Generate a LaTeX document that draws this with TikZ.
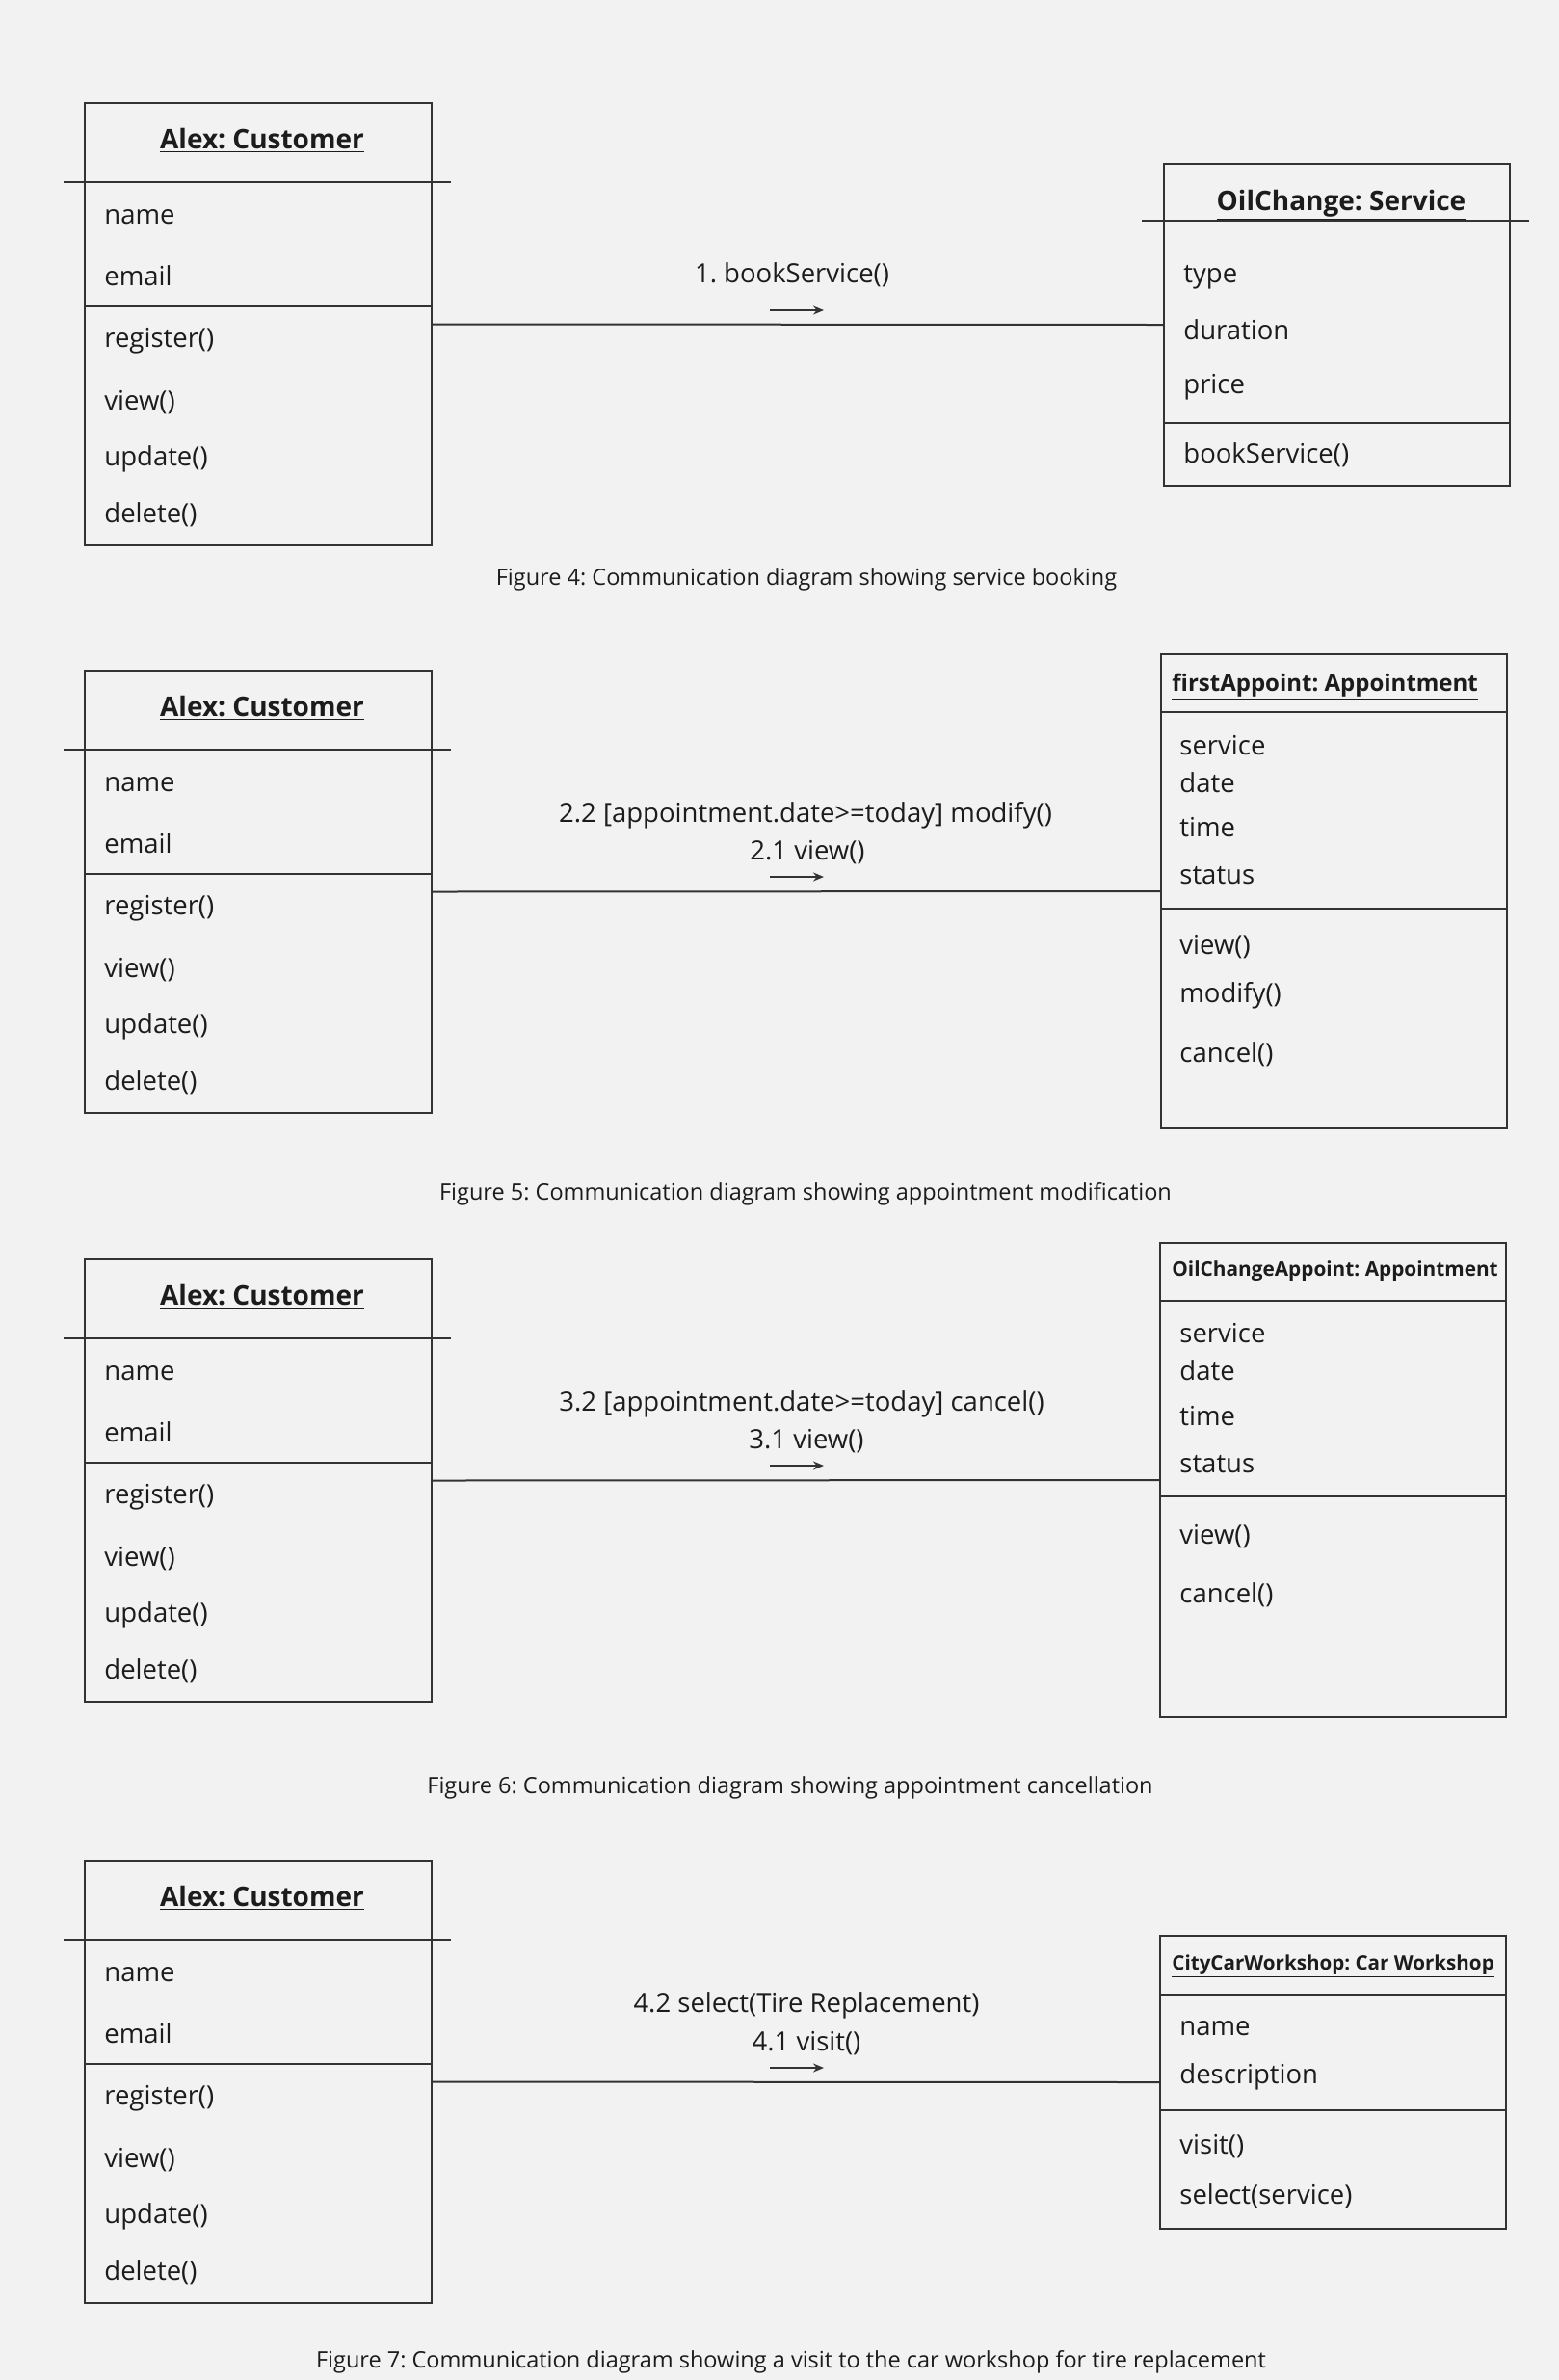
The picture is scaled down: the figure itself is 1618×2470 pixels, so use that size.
\documentclass[tikz,border=0pt]{standalone}
\usepackage{fontspec}
\setmainfont{Open Sans}
\usetikzlibrary{arrows.meta}
\frenchspacing
\definecolor{bg}{HTML}{F2F2F2}
\definecolor{ink}{HTML}{1C1C1C}
\definecolor{edge}{HTML}{333333}
\tikzset{
  box/.style={draw=edge, line width=1pt, inner sep=0pt, anchor=north west},
  sepline/.style={draw=edge, line width=1pt},
  txt/.style={anchor=base west, inner sep=0pt, text=ink, font=\fontsize{13.75}{16}\selectfont},
  ttl/.style={anchor=base, inner sep=0pt, text=ink, font=\bfseries\fontsize{14}{17}\selectfont},
  ttlsmall/.style={anchor=base west, inner sep=0pt, text=ink, font=\bfseries\fontsize{#1}{14}\selectfont},
  lbl/.style={anchor=base, inner sep=0pt, text=ink, font=\fontsize{13.75}{16}\selectfont},
  capt/.style={anchor=base, inner sep=0pt, text=ink, font=\fontsize{11.75}{14}\selectfont},
  conn/.style={draw=edge, line width=1pt},
  msg/.style={draw=edge, line width=0.8pt, -{Stealth[length=5.5pt,width=4.5pt]}},
}
\newcommand\CustBox[2]{%
  \node[box, minimum width=180pt, minimum height=229.5pt] (#1) at (87,#2) {};
  \draw[sepline] (66,{#2+83}) -- (468,{#2+83});
  \draw[sepline] (87,{#2+212}) -- (447,{#2+212});
  \node[ttl] (#1-t) at (272,{#2+48}) {\underline{Alex: Customer}};
  \node[txt] (#1-a1) at (108,{#2+126}) {name};
  \node[txt] (#1-a2) at (108,{#2+190}) {email};
  \node[txt] (#1-m1) at (108,{#2+254}) {register()};
  \node[txt] (#1-m2) at (108,{#2+319}) {view()};
  \node[txt] (#1-m3) at (108,{#2+377}) {update()};
  \node[txt] (#1-m4) at (108,{#2+436}) {delete()};
}
\begin{document}
\begin{tikzpicture}[x=0.5pt,y=-0.5pt]
\fill[bg] (0,0) rectangle (1618,2470);
\useasboundingbox (0,0) rectangle (1618,2470);

% ---------------- Figure 4 ----------------
\CustBox{c4}{106}
\node[box, minimum width=179.5pt, minimum height=167pt] (svc) at (1207,169) {};
\draw[sepline] (1185,229) -- (1587,229);
\draw[sepline] (1207,439) -- (1566,439);
\node[ttl] (svc-t) at (1392,218) {\underline{OilChange: Service}};
\node[txt] (svc-a1) at (1228,293) {type};
\node[txt] (svc-a2) at (1228,352) {duration};
\node[txt] (svc-a3) at (1228,408) {price};
\node[txt] (svc-m1) at (1228,480) {bookService()};
\draw[conn] (c4.east) -- (svc.west);
\node[lbl] (l4) at (822,293) {1. bookService()};
\coordinate (m4s) at (799,322);
\coordinate (m4e) at (855,322);
\draw[msg] (m4s) -- (m4e);
\node[capt] (cap4) at (837,607) {Figure 4: Communication diagram showing service booking};

% ---------------- Figure 5 ----------------
\CustBox{c5}{695}
\node[box, minimum width=179.5pt, minimum height=246pt] (app5) at (1204,678) {};
\draw[sepline] (1204,739) -- (1563,739);
\draw[sepline] (1204,943) -- (1563,943);
\node[ttlsmall=12] (app5-t) at (1216,717) {\underline{firstAppoint: Appointment}};
\node[txt] (app5-a1) at (1224,783) {service};
\node[txt] (app5-a2) at (1224,822) {date};
\node[txt] (app5-a3) at (1224,868) {time};
\node[txt] (app5-a4) at (1224,917) {status};
\node[txt] (app5-m1) at (1224,990) {view()};
\node[txt] (app5-m2) at (1224,1040) {modify()};
\node[txt] (app5-m3) at (1224,1102) {cancel()};
\draw[conn] (c5.east) -- (app5.west);
\node[lbl] (l5a) at (836,853) {2.2 [appointment.date>=today] modify()};
\node[lbl] (l5b) at (838,892) {2.1 view()};
\coordinate (m5s) at (799,910);
\coordinate (m5e) at (855,910);
\draw[msg] (m5s) -- (m5e);
\node[capt] (cap5) at (836,1245) {Figure 5: Communication diagram showing appointment modification};

% ---------------- Figure 6 ----------------
\CustBox{c6}{1306}
\node[box, minimum width=179.5pt, minimum height=246pt] (app6) at (1203,1289) {};
\draw[sepline] (1203,1350) -- (1562,1350);
\draw[sepline] (1203,1553) -- (1562,1553);
\node[ttlsmall=10.4] (app6-t) at (1216,1324) {\underline{OilChangeAppoint: Appointment}};
\node[txt] (app6-a1) at (1224,1393) {service};
\node[txt] (app6-a2) at (1224,1432) {date};
\node[txt] (app6-a3) at (1224,1479) {time};
\node[txt] (app6-a4) at (1224,1528) {status};
\node[txt] (app6-m1) at (1224,1602) {view()};
\node[txt] (app6-m2) at (1224,1663) {cancel()};
\draw[conn] (c6.east) -- (app6.west);
\node[lbl] (l6a) at (832,1464) {3.2 [appointment.date>=today] cancel()};
\node[lbl] (l6b) at (837,1503) {3.1 view()};
\coordinate (m6s) at (799,1521);
\coordinate (m6e) at (855,1521);
\draw[msg] (m6s) -- (m6e);
\node[capt] (cap6) at (820,1861) {Figure 6: Communication diagram showing appointment cancellation};

% ---------------- Figure 7 ----------------
\CustBox{c7}{1930}
\node[box, minimum width=179.5pt, minimum height=152pt] (ws7) at (1203,2008) {};
\draw[sepline] (1203,2070) -- (1562,2070);
\draw[sepline] (1203,2190) -- (1562,2190);
\node[ttlsmall=10.3] (ws7-t) at (1216,2044) {\underline{CityCarWorkshop: Car Workshop}};
\node[txt] (ws7-a1) at (1224,2112) {name};
\node[txt] (ws7-a2) at (1224,2162) {description};
\node[txt] (ws7-m1) at (1224,2235) {visit()};
\node[txt] (ws7-m2) at (1224,2287) {select(service)};
\draw[conn] (c7.east) -- (ws7.west);
\node[lbl] (l7a) at (837,2088) {4.2 select(Tire Replacement)};
\node[lbl] (l7b) at (837,2128) {4.1 visit()};
\coordinate (m7s) at (799,2146);
\coordinate (m7e) at (855,2146);
\draw[msg] (m7s) -- (m7e);
\node[capt] (cap7) at (821,2457) {Figure 7: Communication diagram showing a visit to the car workshop for tire replacement};
\end{tikzpicture}
\end{document}
